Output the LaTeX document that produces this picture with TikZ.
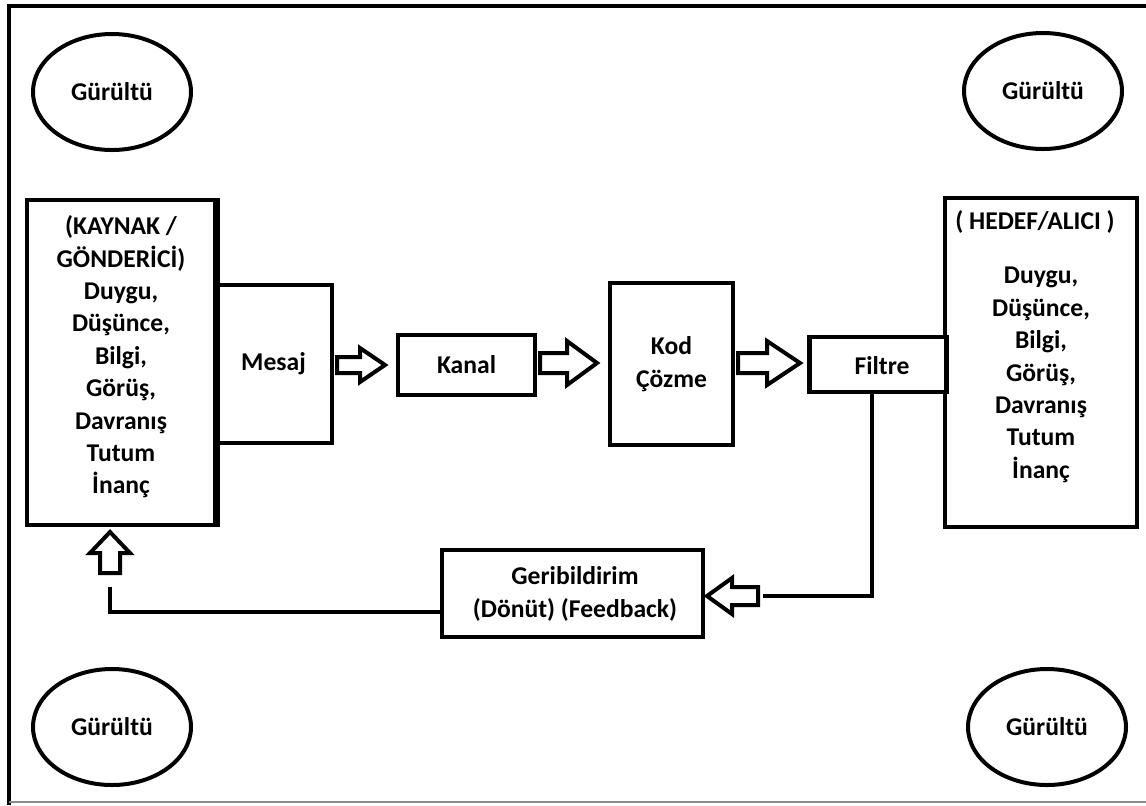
\documentclass[tikz,border=0pt]{standalone}
\usepackage{fontspec}
\setmainfont{Carlito}
\usetikzlibrary{shapes.geometric,calc}
\begin{document}
\begin{tikzpicture}[x=0.5pt,y=-0.5pt,
  every node/.style={font=\bfseries\fontsize{12.8}{16.2}\selectfont, text=black},
  box/.style={draw, line width=2.4pt, fill=white, inner sep=0pt, align=center},
  noise/.style={draw, ellipse, line width=2pt, minimum width=79pt, minimum height=58pt, inner sep=0pt},
  hollow/.style={draw, line width=2pt, fill=white, line join=miter},
  link/.style={draw, line width=2pt}
]
\useasboundingbox (0,0) rectangle (1146,805);
% frame
\draw[line width=2pt] (9,805) -- (9,6) -- (1146,6);
\draw[line width=0.8pt, black!45] (9,802) -- (1146,802);

% noise ellipses
\node[noise] (n1) at (112,92) {Gürültü};
\node[noise] (n2) at (1043,91) {Gürültü};
\node[noise] (n3) at (112,727) {Gürültü};
\node[noise] (n4) at (1047,727) {Gürültü};

% boxes
\node[box, minimum width=94pt, minimum height=162.5pt] (src) at (121,362.5) {};
\node[box, minimum width=58.5pt, minimum height=79pt] (mesaj) at (273.5,364) {Mesaj};
\draw[line width=2.4pt] (src.north east) -- (src.south east);
\node[box, minimum width=68.5pt, minimum height=30pt] (kanal) at (466.5,365) {Kanal};
\node[box, minimum width=61.5pt, minimum height=81pt] (kod) at (671.5,364) {Kod\\Çözme};
\node[box, minimum width=96pt, minimum height=164.5pt] (dst) at (1041,362.5) {};
\node[box, minimum width=68.5pt, minimum height=27.5pt] (filtre) at (878,364.5) {};
\node (filtretext) at (882,366) {Filtre};
\node[box, minimum width=130.5pt, minimum height=43.5pt] (fb) at (572.5,593.5) {};
\node[align=center] (fbtext) at (575,594) {Geribildirim\\(Dönüt) (Feedback)};

% box texts
\node[align=center] (srctext) at (121,357) {(KAYNAK /\\GÖNDERİCİ)\\Duygu,\\Düşünce,\\Bilgi,\\Görüş,\\Davranış\\Tutum\\İnanç};
\node (dsttitle) at (1035,222) {( HEDEF/ALICI )};
\node[align=center] (dsttext) at (1041,375) {Duygu,\\Düşünce,\\Bilgi,\\Görüş,\\Davranış\\Tutum\\İnanç};

% hollow block arrows
\draw[hollow] (337,357) -- (360,357) -- (360,348) -- (385,365) -- (360,382) -- (360,373) -- (337,373) -- cycle;
\draw[hollow] (540,353) -- (567,353) -- (567,341) -- (597,363) -- (567,385) -- (567,373) -- (540,373) -- cycle;
\draw[hollow] (738,353) -- (767,353) -- (767,341) -- (800,363) -- (767,385) -- (767,373) -- (738,373) -- cycle;
\draw[hollow] (758,587) -- (732,587) -- (732,578) -- (707,596) -- (732,614) -- (732,605) -- (758,605) -- cycle;
\draw[hollow] (100,573) -- (100,553) -- (90,553) -- (110,532) -- (130,553) -- (120,553) -- (120,573) -- cycle;

% feedback connectors
\coordinate (fs) at (872,392);
\coordinate (a4tail) at (763,596);
\coordinate (fbl) at (442,612);
\coordinate (a5tail) at (110,587);
\draw[link] (fs) |- (a4tail);
\draw[link] (fbl) -| (a5tail);
\end{tikzpicture}
\end{document}
